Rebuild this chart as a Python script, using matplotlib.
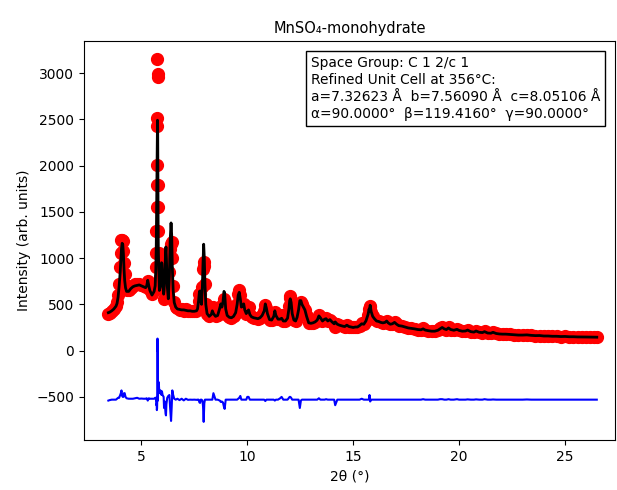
import matplotlib
matplotlib.use("Agg")
import matplotlib.pyplot as plt
import numpy as np

# 2-theta positions (degrees)
two_theta = [
    3.44, 3.50, 3.60, 3.70, 3.80, 3.85, 3.90, 3.95, 4.00, 4.03, 4.06, 4.09, 4.12, 4.15, 4.18, 4.21,
    4.25, 4.30, 4.40, 4.50, 4.60, 4.70, 4.80, 4.90, 5.00, 5.10, 5.20, 5.25, 5.30, 5.35, 5.40, 5.50,
    5.60, 5.65, 5.68, 5.70, 5.71, 5.72, 5.73, 5.74, 5.75, 5.755, 5.76, 5.765, 5.77, 5.78, 5.79, 5.80,
    5.82, 5.85, 5.90, 5.95, 5.97, 6.00, 6.05, 6.07, 6.10, 6.14, 6.16, 6.18, 6.22, 6.27, 6.32, 6.36,
    6.40, 6.43, 6.46, 6.50, 6.55, 6.62, 6.70, 6.80, 6.90, 7.00, 7.10, 7.20, 7.30, 7.40, 7.50, 7.60,
    7.65, 7.70, 7.74, 7.77, 7.80, 7.84, 7.88, 7.91, 7.94, 7.97, 8.00, 8.04, 8.10, 8.20, 8.30, 8.35,
    8.40, 8.50, 8.60, 8.70, 8.75, 8.80, 8.85, 8.90, 8.93, 8.98, 9.05, 9.15, 9.25, 9.35, 9.45, 9.52,
    9.57, 9.62, 9.67, 9.72, 9.78, 9.83, 9.88, 9.95, 10.00, 10.06, 10.12, 10.20, 10.30, 10.40, 10.50,
    10.60, 10.70, 10.80, 10.85, 10.90, 10.95, 11.05, 11.15, 11.25, 11.30, 11.35, 11.45, 11.55, 11.62,
    11.70, 11.80, 11.90, 11.97, 12.00, 12.03, 12.07, 12.12, 12.20, 12.28, 12.35, 12.42, 12.48, 12.53,
    12.58, 12.65, 12.72, 12.80, 12.90, 13.00, 13.10, 13.20, 13.30, 13.38, 13.45, 13.55, 13.65, 13.72,
    13.80, 13.90, 14.00, 14.10, 14.15, 14.25, 14.35, 14.50, 14.60, 14.70, 14.80, 14.90, 15.00, 15.10,
    15.20, 15.30, 15.40, 15.50, 15.60, 15.70, 15.75, 15.77, 15.80, 15.85, 15.92, 16.00, 16.10, 16.20,
    16.30, 16.40, 16.50, 16.58, 16.65, 16.75, 16.85, 16.95, 17.05, 17.15, 17.30, 17.45, 17.60, 17.75,
    17.90, 18.05, 18.20, 18.30, 18.40, 18.55, 18.70, 18.85, 19.00, 19.10, 19.20, 19.30, 19.40, 19.50,
    19.60, 19.75, 19.90, 20.00, 20.15, 20.30, 20.40, 20.55, 20.70, 20.80, 20.95, 21.10, 21.20, 21.35,
    21.50, 21.60, 21.75, 21.90, 22.05, 22.20, 22.40, 22.60, 22.80, 23.00, 23.20, 23.40, 23.60, 23.80,
    24.00, 24.20, 24.40, 24.60, 24.80, 25.00, 25.20, 25.40, 25.60, 25.80, 26.00, 26.20, 26.35, 26.50,
]

# Observed intensities
y_obs = [
    400, 410, 430, 450, 480, 520, 600, 720, 900, 1050, 1200, 1200, 1180, 1080, 950, 830,
    710, 655, 650, 680, 700, 715, 725, 720, 712, 700, 690, 715, 750, 715, 660, 610,
    650, 720, 900, 1060, 1290, 1553, 1787, 2006, 2430, 2510, 3150, 2985, 2956, 1790, 1553, 1294,
    1060, 720, 800, 1000, 1030, 800, 640, 560, 780, 900, 950, 950, 720, 600, 850, 1100,
    1150, 1170, 1000, 700, 530, 470, 460, 440, 450, 432, 445, 428, 430, 424, 425, 428,
    450, 540, 610, 610, 540, 500, 690, 880, 910, 960, 720, 500, 400, 370, 390, 430,
    470, 370, 380, 450, 480, 450, 490, 560, 520, 450, 380, 360, 355, 370, 410, 500,
    610, 650, 600, 470, 480, 505, 440, 400, 450, 470, 390, 365, 355, 350, 345,
    355, 380, 430, 490, 460, 400, 335, 330, 370, 420, 380, 340, 355, 380,
    320, 320, 350, 480, 570, 590, 540, 400, 330, 320, 360, 440, 450, 530,
    500, 470, 440, 370, 300, 295, 300, 310, 330, 390, 355, 320, 340, 350,
    320, 335, 310, 290, 250, 285, 275, 265, 260, 275, 260, 255, 250, 255,
    255, 270, 300, 285, 320, 390, 450, 480, 470, 420, 370, 345, 320, 315,
    305, 300, 305, 320, 300, 285, 290, 305, 285, 270, 265, 255, 245, 240,
    235, 228, 225, 240, 222, 215, 210, 210, 220, 240, 255, 235, 228, 250,
    228, 220, 235, 218, 210, 212, 225, 205, 200, 215, 198, 195, 210, 190,
    188, 200, 185, 180, 178, 178, 175, 172, 168, 168, 172, 165, 162, 163,
    158, 158, 155, 155, 152, 153, 150, 150, 148, 148, 147, 146, 145, 145,
]

# Calculated (refined) profile
y_calc = [
    410, 415, 430, 450, 480, 510, 580, 700, 850, 980, 1100, 1160, 1150, 1050, 880, 760,
    680, 640, 640, 670, 690, 700, 705, 710, 700, 690, 680, 700, 760, 700, 650, 600,
    640, 700, 880, 1100, 1350, 1600, 1900, 2100, 2400, 2490, 2490, 2460, 2350, 1800, 1400, 1100,
    880, 650, 700, 950, 940, 750, 610, 650, 800, 1050, 1120, 1000, 700, 560, 800, 1200,
    1380, 1250, 900, 650, 520, 470, 450, 445, 440, 440, 435, 430, 430, 425, 425, 430,
    450, 540, 640, 645, 540, 500, 700, 950, 1150, 1000, 720, 500, 400, 370, 390, 430,
    400, 370, 380, 460, 505, 470, 520, 640, 620, 450, 380, 360, 355, 370, 410, 500,
    600, 630, 560, 470, 480, 505, 440, 400, 420, 440, 390, 365, 355, 350, 345,
    355, 380, 430, 505, 460, 400, 335, 330, 370, 430, 380, 340, 340, 350,
    320, 320, 350, 460, 540, 560, 520, 400, 330, 320, 360, 440, 540, 540,
    500, 470, 440, 370, 300, 295, 300, 310, 330, 375, 355, 320, 340, 345,
    320, 335, 310, 290, 310, 285, 275, 265, 260, 275, 260, 255, 250, 255,
    255, 270, 290, 285, 320, 390, 450, 430, 490, 420, 370, 345, 320, 315,
    305, 300, 305, 320, 300, 285, 290, 305, 285, 270, 265, 255, 245, 240,
    235, 228, 225, 235, 222, 215, 210, 210, 220, 235, 250, 235, 228, 245,
    228, 220, 230, 218, 210, 212, 222, 205, 200, 212, 198, 195, 205, 190,
    188, 198, 185, 180, 178, 178, 175, 172, 168, 168, 170, 165, 162, 163,
    158, 158, 155, 155, 152, 153, 150, 150, 148, 148, 147, 146, 145, 145,
]

diff_offset = -530

tt = np.array(two_theta)
obs = np.array(y_obs, dtype=float)
calc = np.array(y_calc, dtype=float)
diff = obs - calc + diff_offset

fig = plt.figure(figsize=(6.17, 4.90), dpi=100)
ax = fig.add_axes([84 / 617, 50 / 490, (615 - 84) / 617, (440 - 41) / 490])

ax.plot(tt, obs, 'o', color='red', markersize=8.5, label='Observed')
ax.plot(tt, calc, '-', color='black', linewidth=2, label='Calculated')
ax.plot(tt, diff, '-', color='blue', linewidth=1.5, label='Difference')

ax.set_xlim(2.29, 27.36)
ax.set_xticks([5, 10, 15, 20, 25])
ax.set_yticks([-500, 0, 500, 1000, 1500, 2000, 2500, 3000])

ax.set_title('MnSO\u2084-monohydrate', fontsize=10.5)
ax.set_xlabel('2\u03b8 (\u00b0)')
ax.set_ylabel('Intensity (arb. units)')

cell_text = ("Space Group: C 1 2/c 1\n"
             "Refined Unit Cell at 356\u00b0C:\n"
             "a=7.32623 \u00c5  b=7.56090 \u00c5  c=8.05106 \u00c5\n"
             "\u03b1=90.0000\u00b0  \u03b2=119.4160\u00b0  \u03b3=90.0000\u00b0")
ax.text(0.972, 0.963, cell_text, transform=ax.transAxes, ha='right', va='top',
        multialignment='left', fontsize=9.9, linespacing=1.28,
        bbox=dict(boxstyle='square,pad=0.35', facecolor='white', edgecolor='black'))

fig.savefig('out.png', dpi=100)
